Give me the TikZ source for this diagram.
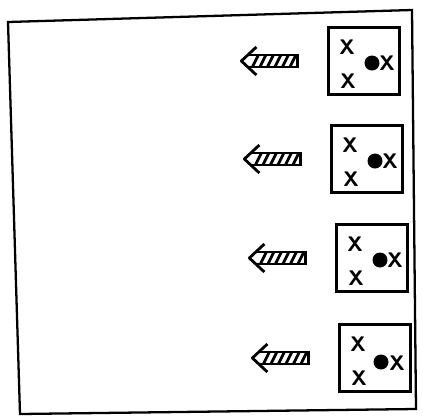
\documentclass[tikz,border=0pt]{standalone}
\usetikzlibrary{positioning}
\tikzset{
	cell/.style={draw, line width=1.3pt, minimum width=1.42cm, minimum height=1.34cm}, % caja con las cargas
	cross/.style={font=\sffamily\bfseries\large, inner sep=0pt}, % carga X
	dot/.style={circle, fill, inner sep=0pt, minimum size=0.3cm}, % carga punto
	hatcharrow/.pic={
		\draw[line width=1.6pt, line join=round] (-41,-14) -- (-56,0) -- (-41,14);
		\draw[line width=1.5pt] (-49.2,-6) -- (0,-6) -- (0,6) -- (-49.2,6);
		\foreach \i in {0,...,5}
			\draw[line width=1.6pt] (-45+7.5*\i,6) -- (-39+7.5*\i,-6);
	}
}

\begin{document}
\begin{tikzpicture}[x=0.02cm, y=-0.02cm]
				\useasboundingbox (0,0) rectangle (423,417);
				\draw[line width=1.3pt] (8,22) -- (412,10) -- (416,409) -- (20,414) -- cycle;
				\node[cell] (b1) at (364,61) {};
				\node[cell] (b2) at (367,159) {};
				\node[cell] (b3) at (372,258) {};
				\node[cell] (b4) at (375,358) {};
				\pic (a1) at ([xshift=-0.6cm]b1.west) {hatcharrow};
				\pic (a2) at ([xshift=-0.6cm]b2.west) {hatcharrow};
				\pic (a3) at ([xshift=-0.6cm]b3.west) {hatcharrow};
				\pic (a4) at ([xshift=-0.6cm]b4.west) {hatcharrow};
				\node[cross] (b1x1) at ([shift={(-17,-14)}]b1.center) {X};
				\node[cross] (b1x2) at ([shift={(-16,20)}]b1.center) {X};
				\node[dot] (b1d) at ([shift={(8,2)}]b1.center) {};
				\node[cross] (b1x3) at ([shift={(23,2)}]b1.center) {X};
				\node[cross] (b2x1) at ([shift={(-17,-14)}]b2.center) {X};
				\node[cross] (b2x2) at ([shift={(-16,20)}]b2.center) {X};
				\node[dot] (b2d) at ([shift={(8,2)}]b2.center) {};
				\node[cross] (b2x3) at ([shift={(23,2)}]b2.center) {X};
				\node[cross] (b3x1) at ([shift={(-17,-14)}]b3.center) {X};
				\node[cross] (b3x2) at ([shift={(-16,20)}]b3.center) {X};
				\node[dot] (b3d) at ([shift={(8,2)}]b3.center) {};
				\node[cross] (b3x3) at ([shift={(23,2)}]b3.center) {X};
				\node[cross] (b4x1) at ([shift={(-17,-14)}]b4.center) {X};
				\node[cross] (b4x2) at ([shift={(-16,20)}]b4.center) {X};
				\node[dot] (b4d) at ([shift={(6,4)}]b4.center) {};
				\node[cross] (b4x3) at ([shift={(22,5)}]b4.center) {X};
			\end{tikzpicture}
\end{document}
